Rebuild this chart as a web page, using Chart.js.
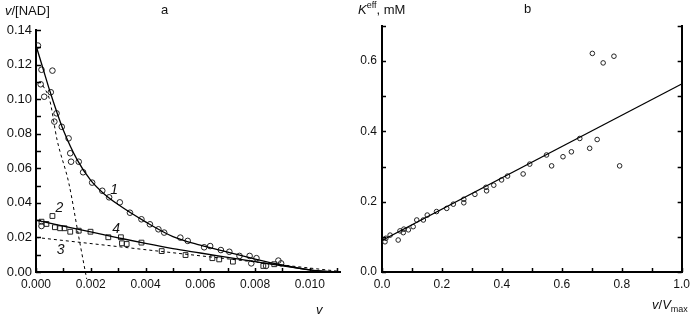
<!DOCTYPE html>
<html><head><meta charset="utf-8">
<script src="https://cdn.jsdelivr.net/npm/chart.js@4.4.1/dist/chart.umd.min.js"></script>
<style>
html,body{margin:0;padding:0;background:#fff;width:695px;height:324px;overflow:hidden;}
#wrapA{position:absolute;left:0;top:0;width:350px;height:324px;}
#wrapB{position:absolute;left:350px;top:0;width:345px;height:324px;}
.t{position:absolute;font-family:"Liberation Sans",Arial,sans-serif;font-size:13px;color:#111;white-space:nowrap;line-height:1;}
.t sup{font-size:9px;vertical-align:6px;line-height:0;}
.t sub{font-size:9px;vertical-align:-3px;line-height:0;}
</style></head><body>
<div id="wrapA"><canvas id="ca" width="350" height="324"></canvas></div>
<div id="wrapB"><canvas id="cb" width="345" height="324"></canvas></div>
<div class="t" style="left:5px;top:4px"><i>v</i>/[NAD]</div>
<div class="t" style="left:161px;top:3px">a</div>
<div class="t" style="left:316px;top:303px"><i>v</i></div>
<div class="t" style="left:358px;top:3px"><i>K</i><sup>eff</sup>, mM</div>
<div class="t" style="left:524px;top:2px">b</div>
<div class="t" style="left:652px;top:298px"><i>v</i>/<i>V</i><sub>max</sub></div>
<script>
// ---------- Panel a data ----------
const circlesV = [0.00007,0.0002,0.0006,0.00017,0.00054,0.0003,0.00075,0.00067,0.00094,0.00119,0.00125,0.00128,0.00156,0.00172,0.00205,0.00242,0.00267,0.00306,0.00343,0.00385,0.00416,0.00447,0.00468,0.00527,0.00554,0.00614,0.00636,0.00675,0.00706,0.00743,0.0078,0.00805,0.00786,0.00885,0.00895,0.0084,0.0002];
const circlesY = [0.131,0.117,0.1165,0.1086,0.104,0.1014,0.0918,0.087,0.084,0.0773,0.0687,0.0638,0.0638,0.0577,0.0517,0.047,0.0432,0.0403,0.0343,0.0305,0.0276,0.0247,0.0228,0.0199,0.018,0.0143,0.015,0.0127,0.0117,0.0093,0.0093,0.008,0.005,0.0066,0.005,0.0035,0.0266];
const squaresV = [0.0002,0.0006,0.00038,0.00069,0.00088,0.00104,0.00125,0.00156,0.00199,0.00264,0.0031,0.00314,0.00331,0.00385,0.00459,0.00546,0.00644,0.00669,0.00719,0.0083,0.0087];
const squaresY = [0.0291,0.0324,0.0278,0.0259,0.0253,0.0253,0.0233,0.0239,0.0233,0.0201,0.0201,0.0166,0.0162,0.017,0.0121,0.0098,0.008,0.0073,0.006,0.0035,0.0045];
const curve1V = [0,0.00025,0.0005,0.00075,0.001,0.0015,0.002,0.0025,0.003,0.004,0.005,0.006,0.007,0.008,0.009,0.010,0.011];
const curve1Y = [0.131,0.118,0.105,0.093,0.082,0.065,0.053,0.045,0.039,0.029,0.0205,0.0155,0.0115,0.0075,0.004,0.0012,0];
const line4V = [0,0.001,0.002,0.003,0.004,0.005,0.006,0.007,0.008,0.009,0.010,0.0105];
const line4Y = [0.030,0.0265,0.0232,0.0198,0.0165,0.0135,0.011,0.0085,0.006,0.0035,0.0012,0];
const line3V = [0,0.011];
const line3Y = [0.020,0.0005];
const steepV = [0.00025,0.0005,0.00077,0.0012,0.00156,0.00185];
const steepY = [0.108,0.0995,0.0764,0.0513,0.0204,-0.004];
const curveLabels = ['1','2','3','4'];
const curveLabelV = [0.00285,0.00085,0.0009,0.00293];
const curveLabelY = [0.0475,0.037,0.0125,0.025];
const xTicksA = [0,0.001,0.002,0.003,0.004,0.005,0.006,0.007,0.008,0.009,0.010,0.011];
const yTicksA = [0,0.01,0.02,0.03,0.04,0.05,0.06,0.07,0.08,0.09,0.10,0.11,0.12,0.13,0.14];

// ---------- Panel b data ----------
const effX = [0.01,0.013,0.027,0.054,0.06,0.071,0.073,0.088,0.104,0.116,0.138,0.151,0.182,0.216,0.238,0.273,0.273,0.31,0.349,0.347,0.373,0.399,0.419,0.471,0.493,0.549,0.566,0.604,0.632,0.66,0.693,0.718,0.702,0.738,0.774,0.793];
const effY = [0.086,0.096,0.105,0.091,0.117,0.112,0.122,0.12,0.129,0.148,0.148,0.162,0.172,0.181,0.193,0.197,0.207,0.221,0.231,0.241,0.247,0.262,0.273,0.279,0.307,0.333,0.302,0.328,0.342,0.38,0.352,0.377,0.622,0.595,0.614,0.302];
const fitX = [0,1.0];
const fitY = [0.09,0.535];
const xTicksB = [0,0.1,0.2,0.3,0.4,0.5,0.6,0.7,0.8,0.9,1.0];
const yTicksB = [0,0.1,0.2,0.3,0.4,0.5,0.6,0.7];

const FONT = '"Liberation Sans", Arial, sans-serif';
const pts = (xs, ys) => xs.map((x, i) => ({x: x, y: ys[i]}));

const inwardTicks = {
  id: 'inwardTicks',
  afterDraw(chart, args, opts) {
    const ctx = chart.ctx;
    ctx.save();
    ctx.strokeStyle = '#000';
    ctx.lineWidth = opts.width || 1.5;
    (opts.list || []).forEach(spec => {
      const sc = chart.scales[spec.scale];
      spec.values.forEach(v => {
        const p = Math.round(sc.getPixelForValue(v)) + 0.5;
        ctx.beginPath();
        if (spec.side === 'bottom') {
          ctx.moveTo(p, sc.top); ctx.lineTo(p, sc.top - spec.len);
        } else if (spec.side === 'left') {
          ctx.moveTo(sc.right, p); ctx.lineTo(sc.right + spec.len, p);
        } else {
          ctx.moveTo(sc.left, p); ctx.lineTo(sc.left - spec.len, p);
        }
        ctx.stroke();
      });
    });
    ctx.restore();
  }
};

const curveText = {
  id: 'curveText',
  afterDatasetsDraw(chart, args, opts) {
    if (!opts.labels) return;
    const ctx = chart.ctx;
    const xs = chart.scales.x, ys = chart.scales.y;
    ctx.save();
    ctx.fillStyle = '#111';
    ctx.font = 'italic 14px ' + FONT;
    ctx.textAlign = 'center';
    ctx.textBaseline = 'middle';
    opts.labels.forEach((t, i) => {
      ctx.fillText(t, xs.getPixelForValue(opts.xv[i]), ys.getPixelForValue(opts.yv[i]));
    });
    ctx.restore();
  }
};

Chart.register(inwardTicks, curveText);

function axisBase(minV, maxV, tickVals, fmt, fontSize, pad, fitFn) {
  return {
    type: 'linear', min: minV, max: maxV,
    grid: {display: false, drawTicks: false},
    border: {display: true, color: '#000', width: 2},
    afterBuildTicks: sc => { sc.ticks = tickVals.map(v => ({value: v})); },
    afterFit: fitFn,
    ticks: {
      autoSkip: false, maxRotation: 0, padding: pad, color: '#111',
      font: {family: FONT, size: fontSize},
      callback: fmt
    }
  };
}

const lineDs = (xs, ys, dash, extra) => Object.assign({
  data: pts(xs, ys), showLine: true, pointRadius: 0, borderColor: '#000',
  borderWidth: 1.3, borderDash: dash, fill: false
}, extra || {});

new Chart(document.getElementById('ca'), {
  type: 'scatter',
  data: {
    datasets: [
      lineDs(curve1V, curve1Y, [], {cubicInterpolationMode: 'monotone'}),
      lineDs(line4V, line4Y, [], {cubicInterpolationMode: 'monotone'}),
      lineDs(line3V, line3Y, [3, 3], {borderWidth: 1}),
      lineDs(steepV, steepY, [3, 3], {borderWidth: 1, clip: false, cubicInterpolationMode: 'monotone'}),
      {data: pts(circlesV, circlesY), pointStyle: 'circle', pointRadius: 2.8, borderColor: '#222', borderWidth: 1, backgroundColor: 'rgba(255,255,255,0)', showLine: false},
      {data: pts(squaresV, squaresY), pointStyle: 'rect', pointRadius: 3.4, borderColor: '#222', borderWidth: 1, backgroundColor: 'rgba(255,255,255,0)', showLine: false}
    ]
  },
  options: {
    responsive: false, animation: false, events: [],
    layout: {padding: {left: 0, top: 30, right: 10, bottom: 28}},
    plugins: {
      legend: {display: false}, tooltip: {enabled: false},
      inwardTicks: {width: 1.5, list: [
        {scale: 'x', side: 'bottom', len: 4, values: xTicksA},
        {scale: 'y', side: 'left', len: 5, values: yTicksA}
      ]},
      curveText: {labels: curveLabels, xv: curveLabelV, yv: curveLabelY}
    },
    scales: {
      x: axisBase(0, 0.0111, xTicksA, v => (Math.round(v * 1000) % 2 === 0 ? v.toFixed(3) : ''), 12, 5, sc => { sc.height = 24; }),
      y: axisBase(0, 0.14, yTicksA, v => (Math.round(v * 100) % 2 === 0 ? v.toFixed(2) : ''), 13, 4, sc => { sc.width = 36; })
    }
  }
});

new Chart(document.getElementById('cb'), {
  type: 'scatter',
  data: {
    datasets: [
      lineDs(fitX, fitY, [], {borderWidth: 1.2}),
      {data: pts(effX, effY), pointStyle: 'circle', pointRadius: 2.3, borderColor: '#222', borderWidth: 1, backgroundColor: 'rgba(255,255,255,0)', showLine: false}
    ]
  },
  options: {
    responsive: false, animation: false, events: [],
    layout: {padding: {left: 0, top: 26, right: 13, bottom: 28}},
    plugins: {
      legend: {display: false}, tooltip: {enabled: false},
      inwardTicks: {width: 1.5, list: [
        {scale: 'x', side: 'bottom', len: 4, values: xTicksB},
        {scale: 'y', side: 'left', len: 4, values: yTicksB},
        {scale: 'y2', side: 'right', len: 4, values: yTicksB}
      ]}
    },
    scales: {
      x: axisBase(0, 1.0, xTicksB, v => (Math.round(v * 10) % 2 === 0 ? v.toFixed(1) : ''), 12, 5, sc => { sc.height = 24; }),
      y: axisBase(0, 0.7, yTicksB, v => (Math.round(v * 10) % 2 === 0 && v < 0.65 ? v.toFixed(1) : ''), 12, 5, sc => { sc.width = 32; }),
      y2: Object.assign(axisBase(0, 0.7, yTicksB, () => '', 12, 0, sc => { sc.width = 0; }), {position: 'right', ticks: {display: false}})
    }
  }
});
</script>
</body></html>
